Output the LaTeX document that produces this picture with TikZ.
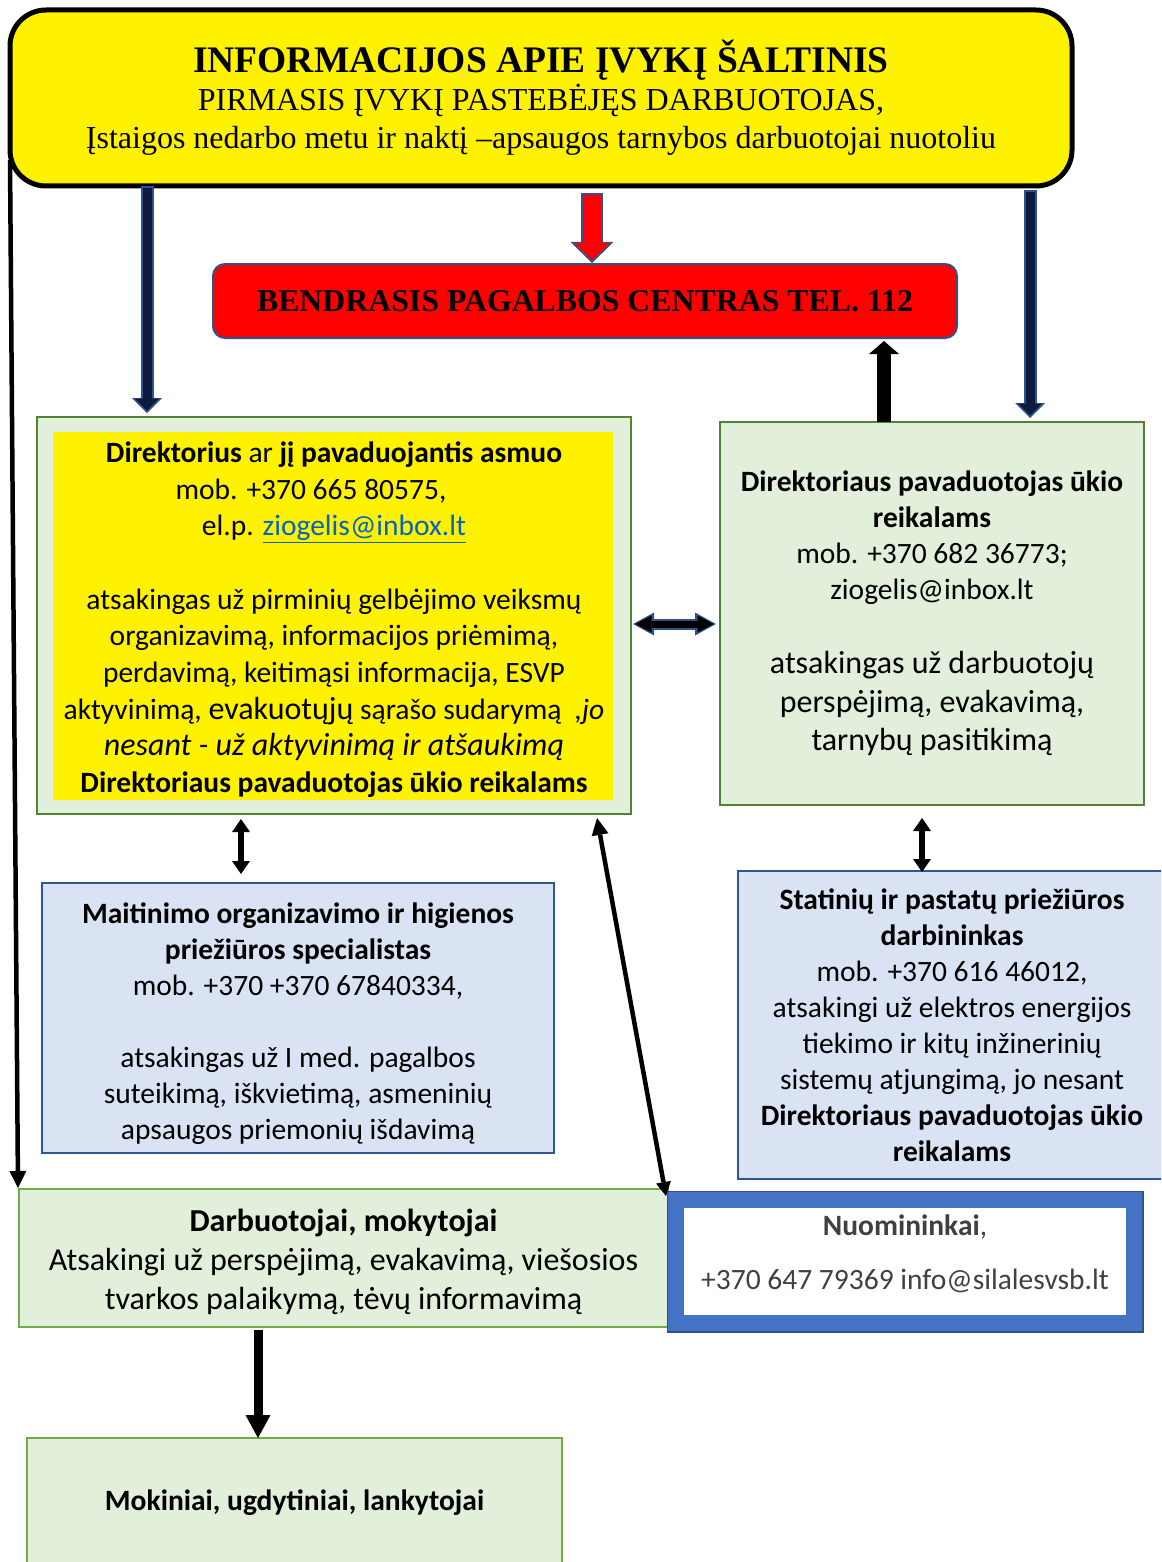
\documentclass[tikz,border=0pt]{standalone}
\usepackage{fontspec}
\setmainfont{Carlito}
\newfontfamily\timesfont{Liberation Serif}
\usetikzlibrary{arrows.meta, positioning}

\definecolor{outlblue}{HTML}{2F528F}
\definecolor{navyfill}{HTML}{0D1B3E}
\definecolor{greenedge}{HTML}{538135}
\definecolor{lightedge}{HTML}{70AD47}
\definecolor{greenfill}{HTML}{E2EFDA}
\definecolor{bluefill}{HTML}{DAE3F3}
\definecolor{blueedge}{HTML}{2F5597}
\definecolor{bandblue}{HTML}{4472C4}
\definecolor{linkblue}{HTML}{0563C1}
\definecolor{grayText}{HTML}{404040}

\newcommand{\bigline}{\fontsize{32}{38.5}\selectfont}

\begin{document}
\begin{tikzpicture}[x=1pt, y=-1pt,
    box/.style={inner sep=0pt, outer sep=0pt, align=center},
    greenbox/.style={box, draw=greenedge, fill=greenfill, line width=2.5pt},
    lightbox/.style={box, draw=lightedge, fill=greenfill, line width=2.5pt},
    bluebox/.style={box, draw=blueedge, fill=bluefill, line width=2pt},
    body/.style={font=\fontsize{29.5}{36}\selectfont},
    thinarrow/.style={line width=4.5pt, -{Triangle[width=17pt,length=17pt,line width=0pt]}}
]
    \useasboundingbox (0,0) rectangle (1161,1562);
    \clip (0,0) rectangle (1161,1562);

    % boxes
    \node[box, draw=black, fill=yellow, line width=5pt, rounded corners=36pt,
          minimum width=1062pt, minimum height=176pt,
          font=\timesfont\fontsize{32}{38}\selectfont] (top) at (541,98)
        {{\fontsize{37.5}{38}\selectfont\bfseries INFORMACIJOS APIE ĮVYKĮ ŠALTINIS}\\
         PIRMASIS ĮVYKĮ PASTEBĖJĘS DARBUOTOJAS,\\
         Įstaigos nedarbo metu ir naktį –apsaugos tarnybos darbuotojai nuotoliu};

    \node[box, draw=outlblue, fill=red, line width=2pt, rounded corners=12pt,
          minimum width=744pt, minimum height=74pt,
          font=\timesfont\bfseries\fontsize{31.8}{36}\selectfont] (bpc) at (585,301)
        {BENDRASIS PAGALBOS CENTRAS TEL. 112};

    \node[greenbox, minimum width=594pt, minimum height=397pt,
          font=\fontsize{29.5}{36.7}\selectfont,
          path picture={\fill[yellow] ([shift={(16pt,-15pt)}]path picture bounding box.north west)
                        rectangle ([shift={(-18pt,14pt)}]path picture bounding box.south east);}] (dir) at (334,615.5)
        {\rule{0pt}{29pt}\textbf{Direktorius} ar \textbf{jį pavaduojantis asmuo}\\
         mob. +370 665 80575,\rule{46pt}{0pt}\\
         el.p. \textcolor{linkblue}{\underline{ziogelis@inbox.lt}}\\[36.7pt]
         atsakingas už pirminių gelbėjimo veiksmų\\
         organizavimą, informacijos priėmimą,\\
         perdavimą, keitimąsi informacija, ESVP\\
         aktyvinimą, {\fontsize{32}{36}\selectfont evakuotųjų} sąrašo sudarymą~ \textit{,jo}\\
         \textit{\fontsize{32}{38}\selectfont nesant - už aktyvinimą ir atšaukimą}\\
         \textbf{Direktoriaus pavaduotojas ūkio reikalams}};

    \node[greenbox, body, minimum width=424pt, minimum height=383pt] (dpu) at (932,613.5)
        {\textbf{Direktoriaus pavaduotojas ūkio}\\
         \textbf{reikalams}\\
         mob. +370 682 36773;\\
         ziogelis@inbox.lt\\[38pt]
         \bigline atsakingas už darbuotojų\\[2.5pt]
         \bigline perspėjimą, evakavimą,\\[2.5pt]
         \bigline tarnybų pasitikimą};

    \node[bluebox, body, minimum width=512pt, minimum height=270pt] (mait) at (298,1018)
        {\rule{0pt}{33pt}\textbf{Maitinimo organizavimo ir higienos}\\
         \textbf{priežiūros specialistas}\\
         mob. +370 +370 67840334,\\[36pt]
         atsakingas už I med. pagalbos\\
         suteikimą, iškvietimą, asmeninių\\
         apsaugos priemonių išdavimą};

    \node[bluebox, body, minimum width=428pt, minimum height=308pt] (stat) at (952,1025)
        {\textbf{Statinių ir pastatų priežiūros}\\
         \textbf{darbininkas}\\
         mob. +370 616 46012,\\
         atsakingi už elektros energijos\\
         tiekimo ir kitų inžinerinių\\
         sistemų atjungimą, jo nesant\\
         \textbf{Direktoriaus pavaduotojas ūkio}\\
         \textbf{reikalams}};

    \node[lightbox, minimum width=649pt, minimum height=138pt,
          font=\fontsize{32}{39}\selectfont] (darb) at (343.5,1258)
        {\rule{0pt}{31pt}\textbf{Darbuotojai, mokytojai}\\
         Atsakingi už perspėjimą, evakavimą, viešosios\\
         tvarkos palaikymą, tėvų informavimą};

    \node[box, draw=bandblue, fill=white, line width=16pt,
          preaction={draw=outlblue, line width=19pt},
          minimum width=458pt, minimum height=123pt, text=grayText, body] (nuom) at (905,1261.5)
        {\textbf{Nuomininkai},\\[18pt]
         +370 647 79369 info@silalesvsb.lt\rule[-18pt]{0pt}{18pt}};

    \node[lightbox, body, minimum width=535pt, minimum height=130pt] (mok) at (294.5,1503)
        {\textbf{Mokiniai, ugdytiniai, lankytojai}};

    % block arrows from the top
    \draw[outlblue, line width=13pt, -{Triangle[width=30pt,length=15pt,line width=0pt]}]
        ([shift={(-394,0)}]top.south) -- ([shift={(-187,-4)}]dir.north);
    \draw[navyfill, line width=9pt, shorten <=2pt, shorten >=2.5pt, -{Triangle[width=24pt,length=12pt,line width=0pt]}]
        ([shift={(-394,0)}]top.south) -- ([shift={(-187,-4)}]dir.north);

    \draw[outlblue, line width=13pt, -{Triangle[width=30pt,length=15pt,line width=0pt]}]
        ([shift={(489,4)}]top.south) -- ([shift={(98,-4)}]dpu.north);
    \draw[navyfill, line width=9pt, shorten <=2pt, shorten >=2.5pt, -{Triangle[width=24pt,length=12pt,line width=0pt]}]
        ([shift={(489,4)}]top.south) -- ([shift={(98,-4)}]dpu.north);

    \draw[outlblue, line width=22pt, -{Triangle[width=43pt,length=21pt,line width=0pt]}]
        ([shift={(51,7)}]top.south) -- ([shift={(7,-1)}]bpc.north);
    \draw[red, line width=18pt, shorten <=2pt, shorten >=3pt, -{Triangle[width=36pt,length=17pt,line width=0pt]}]
        ([shift={(51,7)}]top.south) -- ([shift={(7,-1)}]bpc.north);

    % up to 112
    \draw[black, line width=14pt, -{Triangle[width=30pt,length=13pt,line width=0pt]}]
        ([shift={(-48,0)}]dpu.north) -- ([shift={(299,3)}]bpc.south);

    % between the two green boxes
    \draw[outlblue, line width=11pt, {Triangle[width=23pt,length=21pt,line width=0pt]}-{Triangle[width=23pt,length=21pt,line width=0pt]}]
        ([shift={(2,8.5)}]dir.east) -- ([shift={(-4,10.5)}]dpu.west);
    \draw[black, line width=7pt, shorten <=2.5pt, shorten >=2.5pt, {Triangle[width=17pt,length=16pt,line width=0pt]}-{Triangle[width=17pt,length=16pt,line width=0pt]}]
        ([shift={(2,8.5)}]dir.east) -- ([shift={(-4,10.5)}]dpu.west);

    % small double arrows
    \draw[line width=6pt, {Triangle[width=18pt,length=13pt,line width=0pt]}-{Triangle[width=18pt,length=13pt,line width=0pt]}]
        ([shift={(-93,5)}]dir.south) -- ([shift={(-57,-9)}]mait.north);
    \draw[line width=6pt, {Triangle[width=18pt,length=13pt,line width=0pt]}-{Triangle[width=18pt,length=13pt,line width=0pt]}]
        ([shift={(-10,13)}]dpu.south) -- ([shift={(-30,1)}]stat.north);

    % long arrows
    \draw[thinarrow] ([shift={(0,62)}]top.west) -- ([shift={(-1,-1)}]darb.north west);
    \draw[line width=4.5pt, {Triangle[width=17pt,length=17pt,line width=0pt]}-{Triangle[width=15pt,length=14pt,line width=0pt]}]
        ([shift={(-34,4)}]dir.south east) -- ([shift={(-10,-4)}]nuom.north west);

    % down to pupils
    \draw[line width=9pt, -{Triangle[width=25pt,length=23pt,line width=0pt]}]
        ([shift={(-85.5,3)}]darb.south) -- ([shift={(-36.5,0)}]mok.north);
\end{tikzpicture}
\end{document}
